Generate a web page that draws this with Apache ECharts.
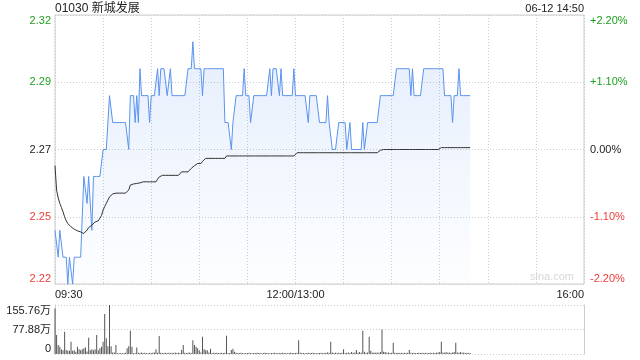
<!DOCTYPE html>
<html><head><meta charset="utf-8">
<script src="https://cdn.jsdelivr.net/npm/echarts@6/dist/echarts.min.js"></script>
<style>html,body{margin:0;padding:0;background:#fff}#c{width:640px;height:360px}</style>
</head><body><div id="c"></div>
<script>
const stockTitle = '01030 新城发展';
const timeStamp = '06-12 14:50';
const prevClose = 2.27;
const pctRange = 2.2;
const sessionMinutes = 330;
const xLabelPositions = [0, 150, 330];
const xLabelTexts = ['09:30', '12:00/13:00', '16:00'];
const volMax = 155.76;

const prices = [
2.24,2.24,2.23,2.24,2.24,2.23,2.23,2.23,2.22,2.23,
2.23,2.22,2.23,2.23,2.23,2.23,2.23,2.23,2.26,2.26,
2.25,2.26,2.26,2.24,2.26,2.26,2.26,2.26,2.26,2.26,
2.27,2.27,2.27,2.27,2.29,2.29,2.28,2.28,2.28,2.28,
2.28,2.28,2.28,2.28,2.28,2.28,2.27,2.29,2.29,2.29,
2.28,2.29,2.28,2.30,2.29,2.29,2.29,2.29,2.29,2.28,
2.29,2.29,2.29,2.29,2.30,2.29,2.30,2.30,2.30,2.30,
2.29,2.29,2.30,2.29,2.29,2.29,2.29,2.29,2.29,2.29,
2.29,2.29,2.29,2.30,2.30,2.30,2.31,2.30,2.30,2.30,
2.30,2.30,2.29,2.30,2.30,2.30,2.30,2.30,2.30,2.30,
2.30,2.30,2.30,2.30,2.30,2.30,2.28,2.28,2.28,2.28,
2.27,2.28,2.28,2.29,2.29,2.29,2.29,2.29,2.30,2.29,
2.29,2.29,2.28,2.28,2.29,2.29,2.29,2.29,2.29,2.29,
2.29,2.29,2.29,2.29,2.30,2.29,2.30,2.30,2.30,2.30,
2.29,2.30,2.29,2.29,2.29,2.29,2.29,2.29,2.29,2.30,
2.29,2.29,2.29,2.29,2.29,2.29,2.29,2.29,2.28,2.29,
2.29,2.29,2.29,2.29,2.29,2.28,2.28,2.28,2.28,2.28,
2.29,2.28,2.28,2.27,2.27,2.27,2.27,2.28,2.28,2.28,
2.28,2.28,2.27,2.27,2.28,2.27,2.27,2.27,2.27,2.27,
2.27,2.27,2.28,2.27,2.27,2.28,2.28,2.28,2.28,2.28,
2.28,2.28,2.28,2.29,2.29,2.29,2.29,2.29,2.29,2.29,
2.29,2.29,2.29,2.30,2.30,2.30,2.30,2.30,2.30,2.30,
2.30,2.30,2.29,2.30,2.29,2.29,2.29,2.29,2.29,2.29,
2.30,2.30,2.30,2.30,2.30,2.30,2.30,2.30,2.30,2.30,
2.30,2.30,2.30,2.29,2.29,2.29,2.29,2.29,2.28,2.29,
2.29,2.29,2.30,2.29,2.29,2.29,2.29,2.29,2.29,2.29
];

const avgPrices = [
2.2640,2.2549,2.2520,2.2500,2.2485,2.2469,2.2450,2.2435,2.2425,2.2418,
2.2413,2.2408,2.2404,2.2400,2.2398,2.2396,2.2394,2.2390,2.2388,2.2395,
2.2401,2.2410,2.2415,2.2419,2.2425,2.2431,2.2433,2.2435,2.2438,2.2455,
2.2475,2.2488,2.2500,2.2512,2.2524,2.2530,2.2535,2.2537,2.2538,2.2538,
2.2538,2.2538,2.2538,2.2538,2.2538,2.2538,2.2550,2.2568,2.2570,2.2572,
2.2573,2.2574,2.2575,2.2576,2.2576,2.2580,2.2580,2.2580,2.2580,2.2580,
2.2580,2.2580,2.2580,2.2580,2.2590,2.2598,2.2604,2.2604,2.2604,2.2604,
2.2604,2.2604,2.2604,2.2604,2.2604,2.2604,2.2604,2.2604,2.2604,2.2617,
2.2617,2.2617,2.2617,2.2617,2.2617,2.2630,2.2630,2.2640,2.2640,2.2648,
2.2648,2.2648,2.2656,2.2656,2.2667,2.2667,2.2667,2.2667,2.2667,2.2667,
2.2667,2.2667,2.2667,2.2667,2.2667,2.2667,2.2667,2.2676,2.2676,2.2676,
2.2676,2.2676,2.2676,2.2676,2.2676,2.2676,2.2676,2.2676,2.2676,2.2676,
2.2676,2.2676,2.2676,2.2676,2.2676,2.2676,2.2676,2.2676,2.2676,2.2676,
2.2676,2.2676,2.2676,2.2676,2.2676,2.2676,2.2676,2.2676,2.2676,2.2676,
2.2676,2.2676,2.2676,2.2676,2.2676,2.2676,2.2676,2.2676,2.2676,2.2676,
2.2676,2.2688,2.2688,2.2688,2.2688,2.2688,2.2688,2.2688,2.2688,2.2688,
2.2688,2.2688,2.2688,2.2688,2.2688,2.2688,2.2688,2.2688,2.2688,2.2688,
2.2688,2.2688,2.2688,2.2688,2.2688,2.2688,2.2688,2.2688,2.2688,2.2688,
2.2688,2.2688,2.2688,2.2688,2.2688,2.2688,2.2688,2.2688,2.2688,2.2688,
2.2688,2.2688,2.2688,2.2688,2.2688,2.2688,2.2688,2.2688,2.2688,2.2688,
2.2688,2.2688,2.2688,2.2697,2.2700,2.2700,2.2700,2.2700,2.2700,2.2700,
2.2700,2.2700,2.2700,2.2700,2.2700,2.2700,2.2700,2.2700,2.2700,2.2700,
2.2700,2.2700,2.2700,2.2700,2.2700,2.2700,2.2700,2.2700,2.2700,2.2700,
2.2700,2.2700,2.2700,2.2700,2.2700,2.2700,2.2700,2.2700,2.2700,2.2700,
2.2700,2.2707,2.2707,2.2707,2.2707,2.2707,2.2707,2.2707,2.2707,2.2707,
2.2707,2.2707,2.2707,2.2707,2.2707,2.2707,2.2707,2.2707,2.2707,2.2707
];

const volumes = [
145,60,29,23,15,12,71,13,10,10,
39,10,12,7,23,15,12,15,18,21,
8,52,12,15,12,15,60,12,18,23,
39,127,50,25,155.76,25,5,5,29,2,
2,3,2,3,4,18,25,74,23,2,
3,21,4,3,5,3,4,3,2,4,
3,4,5,15,4,57,4,3,3,4,
3,4,3,4,3,5,3,4,3,13,
29,4,3,4,5,3,44,29,23,18,
12,5,55,15,12,12,5,17,3,4,
3,4,3,3,4,3,4,58,3,3,
13,17,7,4,3,3,4,3,2,3,
3,4,3,2,3,3,4,3,3,2,
3,4,3,3,2,3,3,4,3,2,
3,3,4,3,3,2,3,4,3,3,
3,4,44,4,3,3,2,3,4,3,
3,4,3,2,3,3,4,3,3,4,
5,4,39,5,3,4,3,4,3,4,
15,3,4,5,3,6,4,5,13,4,
6,4,74,7,4,5,55,10,4,5,
4,5,4,6,78,7,6,4,5,3,
4,36,4,3,4,3,4,3,4,3,
4,13,4,3,4,3,3,4,3,4,
3,4,3,3,4,3,4,3,4,5,
6,39,5,4,6,4,5,3,5,6,
36,5,4,6,4,5,3,4,3,3
];

const FONT = 'Arial, "Liberation Sans", "Noto Sans CJK SC", sans-serif';
const UP = '#1e9e1e', DN = '#f03a3a', EQ = '#222';
const pMin = +(prevClose * (1 - pctRange / 100)).toFixed(5);
const pMax = +(prevClose * (1 + pctRange / 100)).toFixed(5);
const pInt = +(prevClose * pctRange / 200).toFixed(5);

function cls(v, ref) { return v > ref + 1e-6 ? 'up' : (v < ref - 1e-6 ? 'dn' : 'eq'); }
const richC = {
  up: {color: UP, fontSize: 11, fontFamily: FONT},
  dn: {color: DN, fontSize: 11, fontFamily: FONT},
  eq: {color: EQ, fontSize: 11, fontFamily: FONT}
};
const gridLine = {show: true, lineStyle: {color: '#ccc', type: [1, 2], width: 1}};

const chart = echarts.init(document.getElementById('c'), null, {renderer: 'canvas'});
chart.setOption({
  animation: false,
  textStyle: {fontFamily: FONT},
  title: [
    {text: stockTitle, left: 55, top: 3, padding: 0, textStyle: {fontSize: 12, fontWeight: 'normal', color: '#222', fontFamily: FONT}},
    {text: timeStamp, right: 56, top: 3, padding: 0, textStyle: {fontSize: 11, fontWeight: 'normal', color: '#222', fontFamily: FONT}}
  ],
  grid: [
    {left: 55, right: 56, top: 15, height: 269, show: true, borderColor: '#ccc', borderWidth: 1, backgroundColor: 'transparent'},
    {left: 55, right: 56, top: 305, height: 49}
  ],
  xAxis: [
    {type: 'value', gridIndex: 0, min: 0, max: sessionMinutes, interval: 30,
     axisLine: {show: false}, axisTick: {show: false}, splitLine: gridLine,
     axisLabel: {show: true, margin: 5, fontSize: 11, color: '#222', fontFamily: FONT,
       alignMinLabel: 'left', alignMaxLabel: 'right', showMinLabel: true, showMaxLabel: true,
       formatter: v => { const i = xLabelPositions.indexOf(Math.round(v)); return i >= 0 ? xLabelTexts[i] : ''; }}},
    {type: 'value', gridIndex: 1, min: 0, max: sessionMinutes, interval: 30,
     axisLine: {show: false}, axisTick: {show: false}, splitLine: {show: false}, axisLabel: {show: false}}
  ],
  yAxis: [
    {type: 'value', gridIndex: 0, position: 'left', min: pMin, max: pMax, interval: pInt,
     axisLine: {show: false}, axisTick: {show: false}, splitLine: gridLine,
     axisLabel: {margin: 4, fontSize: 11, verticalAlignMaxLabel: 'top', verticalAlignMinLabel: 'bottom',
       formatter: v => '{' + cls(v, prevClose) + '|' + v.toFixed(2) + '}', rich: richC}},
    {type: 'value', gridIndex: 0, position: 'right', min: -pctRange, max: pctRange, interval: pctRange / 2,
     axisLine: {show: false}, axisTick: {show: false}, splitLine: {show: false},
     axisLabel: {margin: 6, fontSize: 11, verticalAlignMaxLabel: 'top', verticalAlignMinLabel: 'bottom',
       formatter: v => '{' + cls(v, 0) + '|' + (v > 1e-6 ? '+' : '') + (Math.abs(v) < 1e-6 ? 0 : v).toFixed(2) + '%}', rich: richC}},
    {type: 'value', gridIndex: 1, position: 'left', min: 0, max: volMax, interval: volMax / 2,
     axisLine: {show: true, lineStyle: {color: '#ccc'}}, axisTick: {show: false}, splitLine: gridLine,
     axisLabel: {margin: 4, fontSize: 11, color: '#222', verticalAlignMaxLabel: 'top', verticalAlignMinLabel: 'bottom',
       formatter: v => v === 0 ? '0' : v.toFixed(2) + '万'}},
    {type: 'value', gridIndex: 1, position: 'right', min: 0, max: volMax,
     axisLine: {show: true, lineStyle: {color: '#ccc'}}, axisTick: {show: false}, splitLine: {show: false}, axisLabel: {show: false}}
  ],
  graphic: [
    {type: 'text', style: {text: 'sina.com', x: 574, y: 277, align: 'right', verticalAlign: 'middle', fill: '#d8d8d8', font: '11px ' + FONT}}
  ],
  series: [
    {type: 'line', xAxisIndex: 0, yAxisIndex: 0, showSymbol: false, z: 3,
     data: prices.map((v, i) => [i, v]),
     lineStyle: {color: '#5a93ef', width: 1},
     areaStyle: {origin: 'start', color: new echarts.graphic.LinearGradient(0, 0, 0, 1, [
       {offset: 0, color: 'rgba(90,147,239,0.22)'}, {offset: 1, color: 'rgba(90,147,239,0.02)'}])}},
    {type: 'line', xAxisIndex: 0, yAxisIndex: 0, showSymbol: false, z: 4,
     data: avgPrices.map((v, i) => [i, v]),
     lineStyle: {color: '#333', width: 1}},
    {type: 'bar', xAxisIndex: 1, yAxisIndex: 2, barWidth: 1,
     data: volumes.map((v, i) => [i, v]),
     itemStyle: {color: '#555'}}
  ]
});
</script>
</body></html>
